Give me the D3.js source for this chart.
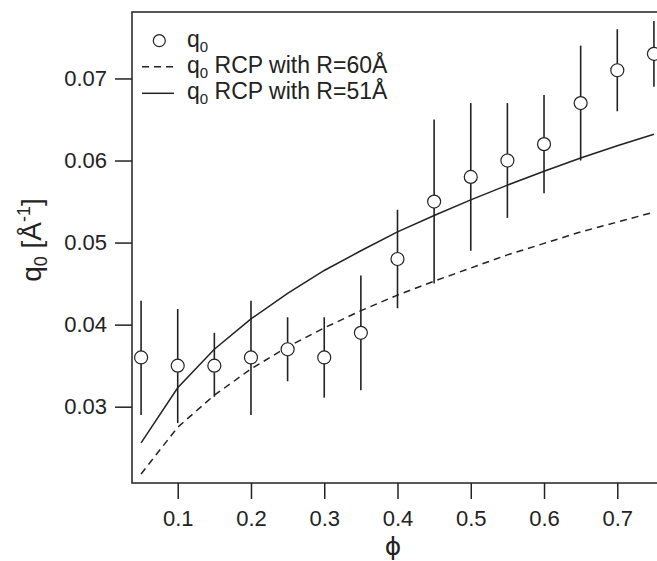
<!DOCTYPE html>
<html>
<head>
<meta charset="utf-8">
<script src="https://cdn.jsdelivr.net/npm/d3@7"></script>
<style>
    html, body { margin: 0; padding: 0; background: #fff; }
    svg text { font-family: "Liberation Sans", Arial, Helvetica, sans-serif; fill: #222; }
</style>
</head>
<body>
<div id="chart"></div>
<script>
// measured data q0 vs phi, with error bar limits
const phi = [0.05, 0.10, 0.15, 0.20, 0.25, 0.30, 0.35, 0.40, 0.45, 0.50, 0.55, 0.60, 0.65, 0.70, 0.75];
const q0 = [0.036, 0.035, 0.035, 0.036, 0.037, 0.036, 0.039, 0.048, 0.055, 0.058, 0.060, 0.062, 0.067, 0.071, 0.073];
const q0Low = [0.029, 0.028, 0.0312, 0.029, 0.0331, 0.0311, 0.032, 0.042, 0.045, 0.049, 0.053, 0.056, 0.060, 0.066, 0.069];
const q0High = [0.0429, 0.0419, 0.039, 0.0429, 0.0409, 0.0409, 0.046, 0.054, 0.065, 0.067, 0.067, 0.068, 0.074, 0.076, 0.077];

// RCP model curves
const rcp51 = [0.0256, 0.0323, 0.0370, 0.0407, 0.0438, 0.0466, 0.0490, 0.0513, 0.0533, 0.0552, 0.0570, 0.0587, 0.0603, 0.0618, 0.0632];
const rcp60 = [0.0218, 0.0275, 0.0314, 0.0346, 0.0373, 0.0396, 0.0417, 0.0436, 0.0453, 0.0469, 0.0485, 0.0499, 0.0513, 0.0525, 0.0537];

const xTicks = [0.1, 0.2, 0.3, 0.4, 0.5, 0.6, 0.7];
const yTicks = [0.03, 0.04, 0.05, 0.06, 0.07];

const W = 657, H = 561;
const margin = { top: 12, right: -3, bottom: 78, left: 132 };
const width = W - margin.left - margin.right,
    height = H - margin.top - margin.bottom;
const ink = "#222";

const svg = d3.select("#chart")
    .append("svg")
    .attr("width", W)
    .attr("height", H)
    .append("g")
    .attr("transform", `translate(${margin.left},${margin.top})`);

const x = d3.scaleLinear().domain([0.0376, 0.7583]).range([0, width]);
const y = d3.scaleLinear().domain([0.0207, 0.0781]).range([height, 0]);

// axes
const axisX = d3.axisBottom(x).tickValues(xTicks).tickSize(16).tickPadding(11)
    .tickFormat(d3.format(".1f"));
const axisY = d3.axisLeft(y).tickValues(yTicks).tickSize(17).tickPadding(8)
    .tickFormat(d3.format(".2f"));

const gx = svg.append("g")
    .attr("transform", `translate(0,${height})`)
    .call(axisX);
const gy = svg.append("g").call(axisY);

[gx, gy].forEach(g => {
    g.select(".domain").remove();
    g.selectAll(".tick line").attr("stroke", ink).attr("stroke-width", 1.5);
    g.selectAll(".tick text").attr("font-size", 22).attr("fill", ink)
        .style("font-family", '"Liberation Sans", Arial, sans-serif');
});

// frame
svg.append("rect")
    .attr("x", 0).attr("y", 0)
    .attr("width", width).attr("height", height)
    .attr("fill", "none")
    .attr("stroke", ink)
    .attr("stroke-width", 1.5);

// curves
const line = vals => d3.line()
    .x((d, i) => x(phi[i]))
    .y(d => y(d))(vals);

svg.append("path")
    .attr("d", line(rcp60))
    .attr("fill", "none")
    .attr("stroke", ink)
    .attr("stroke-width", 1.5)
    .attr("stroke-dasharray", "7,5");

svg.append("path")
    .attr("d", line(rcp51))
    .attr("fill", "none")
    .attr("stroke", ink)
    .attr("stroke-width", 1.5);

// error bars
svg.append("g").selectAll("line")
    .data(phi)
    .enter().append("line")
    .attr("x1", d => x(d))
    .attr("x2", d => x(d))
    .attr("y1", (d, i) => y(q0Low[i]))
    .attr("y2", (d, i) => y(q0High[i]))
    .attr("stroke", ink)
    .attr("stroke-width", 1.6);

// points
svg.append("g").selectAll("circle")
    .data(phi)
    .enter().append("circle")
    .attr("cx", d => x(d))
    .attr("cy", (d, i) => y(q0[i]))
    .attr("r", 6.5)
    .attr("fill", "#fff")
    .attr("stroke", ink)
    .attr("stroke-width", 1.2);

// legend
const legend = svg.append("g");
const lx0 = 10, lx1 = 42, tx = 55;
const rows = [
    { type: "circle", y: 34.7, label: "" },
    { type: "dash", y: 60.7, label: " RCP with R=60Å" },
    { type: "solid", y: 87.3, label: " RCP with R=51Å" }
];
rows.forEach(r => {
    const lineY = r.y - 6;
    if (r.type === "circle") {
        legend.append("circle")
            .attr("cx", 27.3).attr("cy", lineY)
            .attr("r", 6).attr("fill", "#fff")
            .attr("stroke", ink).attr("stroke-width", 1.2);
    } else {
        legend.append("line")
            .attr("x1", lx0).attr("x2", lx1)
            .attr("y1", lineY).attr("y2", lineY)
            .attr("stroke", ink).attr("stroke-width", 1.5)
            .attr("stroke-dasharray", r.type === "dash" ? "7,5" : null);
    }
    const t = legend.append("text")
        .attr("x", tx).attr("y", r.y)
        .attr("font-size", 23);
    t.append("tspan").text("q");
    t.append("tspan").attr("font-size", 15).attr("dy", 5).text("0");
    if (r.label) t.append("tspan").attr("dy", -5).text(r.label);
});

// axis titles
svg.append("text")
    .attr("x", width / 2 - 3)
    .attr("y", height + 72)
    .attr("text-anchor", "middle")
    .attr("font-size", 25)
    .style("font-family", '"DejaVu Sans", sans-serif')
    .text("\u03D5");

const yt = svg.append("text")
    .attr("transform", `translate(${41 - margin.left},${240 - margin.top}) rotate(-90)`)
    .attr("text-anchor", "middle")
    .attr("font-size", 28);
yt.append("tspan").text("q");
yt.append("tspan").attr("font-size", 18).attr("dy", 6).text("0");
yt.append("tspan").attr("dy", -6).text(" [Å");
yt.append("tspan").attr("font-size", 18).attr("dy", -11).text("-1");
yt.append("tspan").attr("dy", 11).text("]");
</script>
</body>
</html>
